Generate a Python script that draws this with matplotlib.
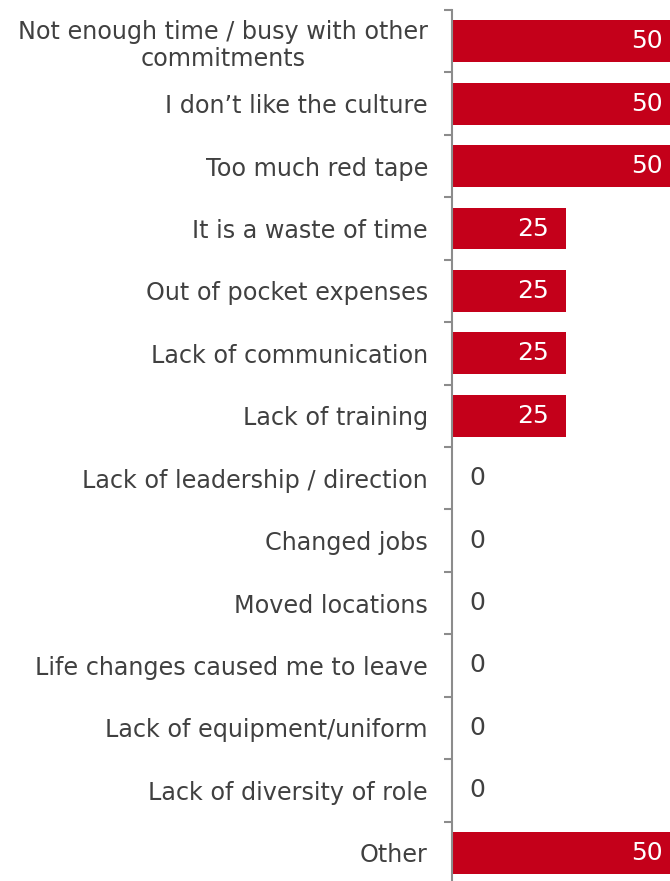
import numpy as np
import matplotlib.pyplot as plt

reasons = [
    'Not enough time / busy with other\ncommitments',
    'I don\u2019t like the culture',
    'Too much red tape',
    'It is a waste of time',
    'Out of pocket expenses',
    'Lack of communication',
    'Lack of training',
    'Lack of leadership / direction',
    'Changed jobs',
    'Moved locations',
    'Life changes caused me to leave',
    'Lack of equipment/uniform',
    'Lack of diversity of role',
    'Other',
]
values = [50, 50, 50, 25, 25, 25, 25, 0, 0, 0, 0, 0, 0, 50]

red = '#c4001a'
grey_text = '#404040'
axis_grey = '#8c8c8c'

fig = plt.figure(figsize=(6.7, 8.81), dpi=100)
# axes runs a little past the right/bottom edges, like the cropped original
ax = fig.add_axes([452 / 670, -3 / 881, 227.4 / 670, 874 / 881])

y = np.arange(len(reasons))
ax.barh(y, values, height=0.67, color=red)
ax.set_xlim(0, 50)
ax.set_ylim(len(reasons) - 0.5, -0.5)

for yi, v in zip(y, values):
    if v > 0:
        ax.annotate(str(v), (v, yi), xytext=(-12.2, 0), textcoords='offset points',
                    ha='right', va='center', color='white', fontsize=18)
    else:
        ax.annotate(str(v), (0, yi), xytext=(12.2, 0), textcoords='offset points',
                    ha='left', va='center', color=grey_text, fontsize=18)

# tick marks on category boundaries, labels on centres
ax.set_yticks(np.arange(len(reasons) + 1) - 0.5)
ax.set_yticklabels([])
ax.set_yticks(y, minor=True)
ax.set_yticklabels(reasons, minor=True, fontsize=17.2, color=grey_text)
ax.tick_params(axis='y', which='major', length=6, width=1.5, color=axis_grey, direction='out')
ax.tick_params(axis='y', which='minor', length=0, pad=17.3)
for lab in ax.get_yticklabels(minor=True):
    lab.set_multialignment('center')
    lab.set_linespacing(1.15)

ax.set_xticks([])
for s in ['top', 'right', 'bottom']:
    ax.spines[s].set_visible(False)
ax.spines['left'].set_color(axis_grey)
ax.spines['left'].set_linewidth(1.5)

fig.savefig('out.png', dpi=100)
